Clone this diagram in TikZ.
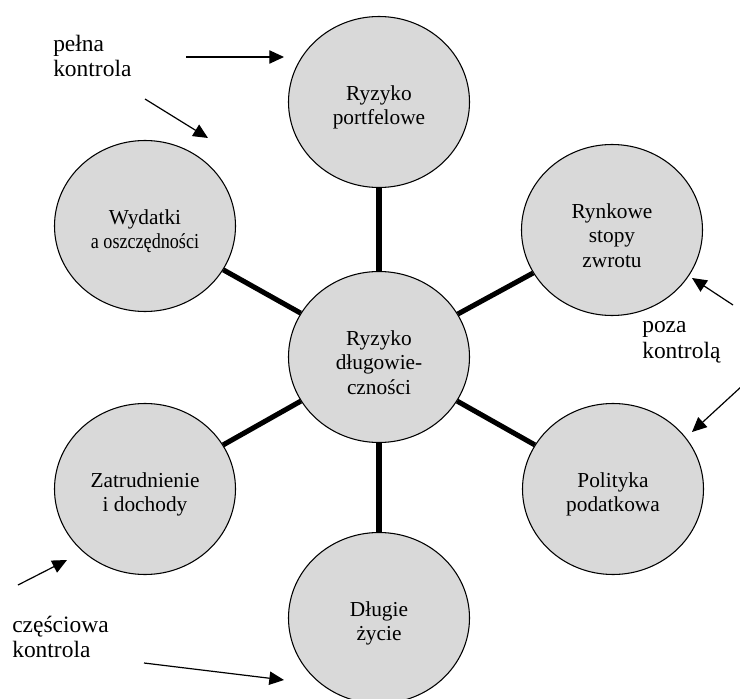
\documentclass[tikz,border=0pt]{standalone}
\usepackage{fontspec}
\setmainfont{Liberation Serif}
\usepackage{graphicx}
\usepackage{tikz}
\usetikzlibrary{arrows.meta, shapes.geometric, positioning}
\definecolor{RiskFill}{RGB}{217,217,217}
\newcommand{\lift}{\rule{0pt}{19pt}}
\tikzset{
  risk/.style={ellipse, draw=black, line width=0.8pt, fill=RiskFill,
    minimum width=135.75pt, minimum height=128.25pt, inner sep=0pt,
    align=center, font=\fontsize{16}{18.4}\selectfont},
  spoke/.style={line width=3.8pt},
  pointer/.style={line width=0.9pt, -{Triangle[length=11pt,width=10pt]}},
  note/.style={anchor=west, align=left, inner sep=0pt,
    font=\fontsize{17.6}{19.2}\selectfont}
}

\begin{document}
\begin{tikzpicture}[x=0.75pt,y=-0.75pt]
  \clip (0,0) rectangle (740,699);
  % centre and the six risks round it
  \node[risk] (portfel) at (379,102) {\lift Ryzyko\\portfelowe};
  \node[risk] (wydatki) at (145,226) {\lift Wydatki\\\scalebox{0.85}[1]{a oszczędności}};
  \node[risk] (rynek) at (612,230) {\lift Rynkowe\\stopy\\zwrotu};
  \node[risk] (centrum) at (379,357) {\lift Ryzyko\\długowie-\\czności};
  \node[risk] (praca) at (145,489) {\lift Zatrudnienie\\i dochody};
  \node[risk] (podatki) at (613,489) {\lift Polityka\\podatkowa};
  \node[risk] (zycie) at (379,618) {\lift Długie\\życie};
  \foreach \n in {portfel,wydatki,rynek,praca,podatki,zycie}
    \draw[spoke] (centrum) -- (\n);
  % degree of control
  \node[note] (pelna) at (53,56) {pełna\\kontrola};
  \node[note] (poza) at (642,342) {poza\\kontrolą};
  \node[note] (czesc) at (12,637) {częściowa\\kontrola};
  \coordinate (p1) at (186,57);  \coordinate (q1) at (284,57);
  \coordinate (p2) at (145,99);  \coordinate (q2) at (208,138);
  \coordinate (p3) at (733,305); \coordinate (q3) at (692,278);
  \coordinate (p4) at (742,386); \coordinate (q4) at (692,432);
  \coordinate (p5) at (18,585);  \coordinate (q5) at (67,560);
  \coordinate (p6) at (144,663); \coordinate (q6) at (284,680);
  \foreach \i in {1,...,6}
    \draw[pointer] (p\i) -- (q\i);
\end{tikzpicture}
\end{document}
